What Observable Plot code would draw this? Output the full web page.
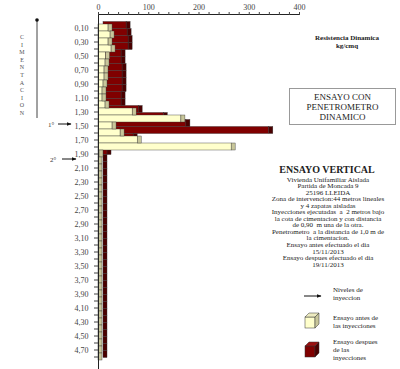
<!DOCTYPE html>
<html><head><meta charset="utf-8">
<script src="https://cdn.jsdelivr.net/npm/d3@7"></script>
<script src="https://cdn.jsdelivr.net/npm/@observablehq/plot@0.6"></script>
<style>
body{margin:0;background:#fff;}
#wrap{position:relative;width:400px;height:369px;overflow:hidden;font-family:"Liberation Serif","Times New Roman",serif;color:#222;}
.abs{position:absolute;white-space:nowrap;}
.c{text-align:center;}
#wrap svg.ov{position:absolute;left:0;top:0;pointer-events:none;}
</style></head><body><div id="wrap"></div>
<script>
const depthLabels = ["0,10","0,20","0,30","0,40","0,50","0,60","0,70","0,80","0,90","1,00",
  "1,10","1,20","1,30","1,40","1,50","1,60","1,70","1,80","1,90","2,00",
  "2,10","2,20","2,30","2,40","2,50","2,60","2,70","2,80","2,90","3,00",
  "3,10","3,20","3,30","3,40","3,50","3,60","3,70","3,80","3,90","4,00",
  "4,10","4,20","4,30","4,40","4,50","4,60","4,70","4,80"];
// Ensayo antes de las inyecciones (kg/cm2)
const antes = [20,24,20,26,15,14,12,12,10,8,
  8,14,68,165,28,44,78,265,2,0,
  0,0,0,0,0,0,0,0,0,0,
  0,0,0,0,0,0,0,0,0,0,
  0,0,0,0,0,0,0,0];
// Ensayo despues de las inyecciones (kg/cm2)
const despues = [46,48,50,50,36,36,38,38,38,38,
  36,36,70,120,165,330,60,50,8,0,
  0,0,0,0,0,0,0,0,0,0,
  0,0,0,0,0,0,0,0,0,0,
  0,0,0,0,0,0,0,0];
const xTickLabels = ["0","100","200","300","400"];

const rows = depthLabels.map((d, i) => ({depth: d, antes: antes[i], despues: despues[i]}));

const creamFront = "#FFFFCC", creamSide = "#C8C69A", redFront = "#800000", redSide = "#4a0000";
const edge = "#333";

const chart = Plot.plot({
  width: 400, height: 369,
  marginLeft: 98, marginRight: 101, marginTop: 14, marginBottom: 0,
  style: {fontFamily: "Liberation Serif, serif", fontSize: "8px", color: "#444", background: "transparent"},
  x: {domain: [0, 400]},
  y: {domain: depthLabels, padding: 0},
  marks: [
    // series behind: despues (red)
    Plot.barX(rows, {y: "depth", x: "despues", dx: 5, dy: -2.5, fill: redFront, stroke: edge, strokeWidth: 0.4}),
    Plot.barX(rows, {y: "depth", x1: "despues", x2: "despues", insetRight: -4, dx: 5, dy: -2.5, fill: redSide, stroke: edge, strokeWidth: 0.4}),
    // series in front: antes (cream)
    Plot.barX(rows, {y: "depth", x: "antes", fill: creamFront, stroke: edge, strokeWidth: 0.4}),
    Plot.barX(rows, {y: "depth", x1: "antes", x2: "antes", insetRight: -4, fill: creamSide, stroke: edge, strokeWidth: 0.4}),
    Plot.ruleX([0], {stroke: "#222", strokeWidth: 1}),
    Plot.frame({anchor: "top", stroke: "#222"}),
    Plot.axisX({anchor: "top", ticks: d3.range(0, 401, 20), tickSize: 3, tickPadding: 2,
      tickFormat: d => xTickLabels.includes(String(d)) ? String(d) : "", label: null}),
    Plot.axisY({ticks: depthLabels, tickSize: 4, tickPadding: 6,
      tickFormat: (d, i) => (depthLabels.indexOf(d) % 2 === 0 ? d : ""), label: null})
  ]
});
const wrap = document.getElementById("wrap");
wrap.appendChild(chart);

// overlay annotations
const letters = "CIMENTACION".split("");
let ov = `<svg class="ov" width="400" height="369" xmlns="http://www.w3.org/2000/svg">
<defs><marker id="ah" viewBox="0 0 10 10" refX="9" refY="5" markerWidth="5" markerHeight="5" orient="auto"><path d="M0,1 L10,5 L0,9 z" fill="#111"/></marker></defs>
<line x1="37" y1="20" x2="37" y2="118" stroke="#444" stroke-width="1"/>
<circle cx="37" cy="20" r="1.8" fill="#111"/>
${letters.map((l, i) => `<text x="22" y="${39 + i * 7.6}" font-size="6" fill="#555" text-anchor="middle" font-family="Liberation Serif">${l}</text>`).join("")}
<text x="48" y="127" font-size="7" fill="#333" font-family="Liberation Serif">1°</text>
<line x1="58" y1="124" x2="71" y2="124" stroke="#111" stroke-width="1" marker-end="url(#ah)"/>
<text x="50" y="162" font-size="7" fill="#333" font-family="Liberation Serif">2°</text>
<line x1="62" y1="159" x2="76" y2="159" stroke="#111" stroke-width="1" marker-end="url(#ah)"/>
<line x1="304" y1="296" x2="321" y2="296" stroke="#111" stroke-width="1" marker-end="url(#ah)"/>
<g stroke="#333" stroke-width="0.5">
<rect x="305" y="317" width="10" height="11" fill="${creamFront}"/>
<path d="M305,317 L309,313 L319,313 L315,317 z" fill="#EDEBC0"/>
<path d="M315,317 L319,313 L319,324 L315,328 z" fill="${creamSide}"/>
<rect x="305" y="346" width="10" height="11" fill="${redFront}"/>
<path d="M305,346 L309,342 L319,342 L315,346 z" fill="#9a1010"/>
<path d="M315,346 L319,342 L319,353 L315,357 z" fill="${redSide}"/>
</g>
</svg>`;
wrap.insertAdjacentHTML("beforeend", ov);

const html = `
<div class="abs c" style="left:300px;top:34px;width:94px;font-size:7px;font-weight:bold;line-height:8px;">Resistencia Dinamica<br>kg/cmq</div>
<div class="abs c" style="left:289px;top:88px;width:107px;height:37px;border:1px solid #999;box-sizing:border-box;font-size:9px;line-height:10px;padding-top:3px;">ENSAYO CON<br>PENETROMETRO<br>DINAMICO</div>
<div class="abs c" style="left:262px;top:164px;width:130px;font-size:10px;font-weight:bold;line-height:11px;">ENSAYO VERTICAL</div>
<div class="abs c" style="left:262px;top:176.5px;width:132px;font-size:7px;line-height:6.55px;">
Vivienda Unifamiliar Aislada<br>Partida de Moncada 9<br>25196 LLEIDA<br>Zona de intervencion:44 metros lineales<br>y 4 zapatas aisladas<br>Inyecciones ejecutadas &nbsp;a &nbsp;2 metros bajo<br>la cota de cimentacion y con distancia<br>de 0,90 &nbsp;m una de la otra.<br>Penetrometro &nbsp;a la distancia de 1,0 m de<br>la cimentacion.<br>Ensayo antes efectuado el dia<br>15/11/2013<br>Ensayo despues efectuado el dia<br>19/11/2013</div>
<div class="abs" style="left:333px;top:286px;font-size:7px;line-height:8px;">Niveles de<br>inyeccion</div>
<div class="abs" style="left:333px;top:314px;font-size:7px;line-height:8px;">Ensayo antes de<br>las inyecciones</div>
<div class="abs" style="left:333px;top:338px;font-size:7px;line-height:8px;">Ensayo despues<br>de las<br>inyecciones</div>
`;
wrap.insertAdjacentHTML("beforeend", html);
</script></body></html>
